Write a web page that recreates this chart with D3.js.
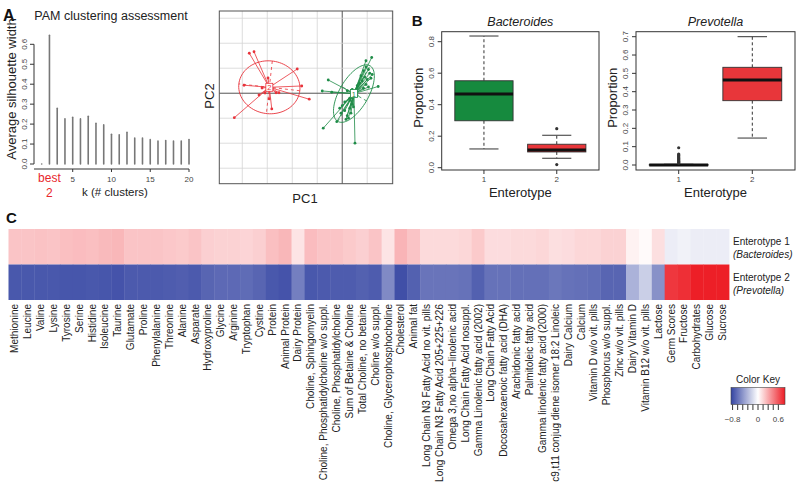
<!DOCTYPE html>
<html><head><meta charset="utf-8">
<script src="https://cdn.jsdelivr.net/npm/d3@7"></script>
<style>body{margin:0;background:#fff} svg{display:block;font-family:"Liberation Sans",Arial,Helvetica,sans-serif}</style>
</head><body><svg id="c" width="800" height="495"></svg>
<script>
// ---------------- DATA ----------------
const kValues = d3.range(1, 21);
const silhouette = [0, 0.645, 0.279, 0.227, 0.234, 0.226, 0.239, 0.204, 0.196, 0.149, 0.146, 0.159, 0.130, 0.130, 0.122, 0.115, 0.118, 0.115, 0.115, 0.123];
const silTicksY = [0, 0.1, 0.2, 0.3, 0.4, 0.5, 0.6];
const silTicksX = [5, 10, 15, 20];

const pcaGrid = [-4, -3, -2, -1, 0, 1, 2, 3];
const redPoints = [[-3.72,1.60],[-3.53,1.66],[-1.80,0.97],[-1.32,-0.24],[-4.32,-0.98],[-3.33,-0.07],[-3.93,0.32],[-2.82,-0.63],[-2.65,0.02],[-2.53,0.02],[-1.62,0.29],[-3.09,0.01],[-2.97,0.61],[-3.21,0.21],[-2.92,-0.23]];
const greenPoints = [[0.95,1.05],[1.05,0.95],[0.85,0.90],[1.10,0.80],[0.75,0.70],[0.90,0.65],[1.00,0.55],[1.20,0.75],[0.80,0.50],[0.70,0.40],[1.15,0.60],[0.95,0.35],[0.60,0.30],[0.85,0.20],[1.05,0.25],
  [1.18,1.43],[0.95,1.30],[1.44,0.27],[-0.56,0.53],[-0.80,0.09],[-0.42,0.04],[0.20,0.10],[0.40,0.15],[0.30,-0.20],[0.60,-0.10],
  [0.00,-0.50],[0.10,-0.70],[0.20,-0.90],[-0.05,-0.80],[0.30,-0.60],[0.25,-1.00],[0.10,-0.35],[0.40,-0.45],[0.35,-0.80],[-0.10,-0.60],[0.15,-1.05],[0.45,-0.55],[0.30,-0.30],
  [-0.76,-1.40],[0.51,-2.00],[-0.22,-1.14]];

const enterotypeGroups = ["1", "2"];
// [lower whisker, Q1, median, Q3, upper whisker]
const bacteroidesBox = [[0.119, 0.298, 0.468, 0.552, 0.836], [0.06, 0.10, 0.112, 0.149, 0.206]];
const bacteroidesOutliers = [[], [0.248, 0.02]];
const bacteroidesTicks = [0, 0.2, 0.4, 0.6, 0.8];
const prevotellaBox = [[0, 0, 0, 0.002, 0.004], [0.147, 0.351, 0.464, 0.533, 0.70]];
const prevotellaOutliers = [[0.01,0.015,0.02,0.025,0.03,0.035,0.04,0.045,0.05,0.055,0.06,0.094], []];
const prevotellaTicks = [0, 0.1, 0.2, 0.3, 0.4, 0.5, 0.6, 0.7];

const nutrients = ["Methionine","Leucine","Valine","Lysine","Tyrosine","Serine","Histidine","Isoleucine","Taurine","Glutamate","Proline","Phenylalanine","Threonine","Alanine","Asparate","Hydroxyproline","Glycine","Arginine","Tryptophan","Cystine","Protein","Animal Protein","Dairy Protein","Choline, Sphingomyelin","Choline, Phosphatidylcholine w/o suppl.","Choline, Phosphatidylcholine","Sum of Betaine & Choline","Total Choline, no betaine","Choline w/o suppl.","Choline, Glycerophosphocholine","Cholesterol","Animal fat","Long Chain N3 Fatty Acid no vit. pills","Long Chain N3 Fatty Acid 205+225+226","Omega 3,no alpha\u2212linolenic acid","Long Chain Fatty Acid nosuppl.","Gamma Linolenic fatty acid (2002)","Long Chain Fatty Acid","Docosahexaenoic fatty acid (DHA)","Arachidonic fatty acid","Palmitoleic fatty acid","Gamma linolenic fatty acid (2000)","c9,t11 conjug diene isomer 18:2 Linoleic","Dairy Calcium","Calcium","Vitamin D w/o vit. pills","Phosphorus w/o suppl.","Zinc w/o vit. pills","Dairy Vitamin D","Vitamin B12 w/o vit. pills","Lactose","Germ Scores","Fructose","Carbohydrates","Glucose","Sucrose"];
const enterotype1Values = [0.22,0.22,0.23,0.22,0.24,0.25,0.24,0.26,0.27,0.22,0.22,0.22,0.21,0.20,0.22,0.18,0.17,0.17,0.16,0.18,0.24,0.27,0.10,0.25,0.22,0.22,0.20,0.18,0.22,0.10,0.28,0.22,0.14,0.14,0.14,0.15,0.20,0.13,0.13,0.14,0.14,0.15,0.12,0.13,0.15,0.15,0.17,0.17,0.05,0.02,0.12,-0.08,-0.06,-0.08,-0.08,-0.08];
const enterotype2Values = [-0.76,-0.76,-0.76,-0.76,-0.77,-0.77,-0.76,-0.77,-0.78,-0.75,-0.75,-0.75,-0.74,-0.73,-0.75,-0.70,-0.68,-0.68,-0.67,-0.70,-0.76,-0.78,-0.58,-0.76,-0.75,-0.74,-0.74,-0.72,-0.74,-0.53,-0.80,-0.72,-0.63,-0.63,-0.63,-0.64,-0.72,-0.64,-0.64,-0.65,-0.65,-0.65,-0.62,-0.64,-0.65,-0.66,-0.70,-0.70,-0.35,-0.22,-0.50,0.75,0.78,0.84,0.84,0.84];
const rowLabels = [["Enterotype 1", "(Bacteroides)"], ["Enterotype 2", "(Prevotella)"]];
const keyTicks = [-0.8, -0.64, -0.48, -0.32, -0.16, 0, 0.16, 0.32, 0.48, 0.64];
const keyLabels = [[-0.8, "\u22120.8"], [0, "0"], [0.64, "0.6"]];

// ---------------- DRAW ----------------
const svg = d3.select("#c");
const GREEN = "#168a3e", RED = "#e8363a", AX = "#333";

function txt(g, x, y, s, opt = {}) {
  const t = g.append("text").attr("x", x).attr("y", y).text(s)
    .attr("font-size", opt.size || 10).attr("fill", opt.fill || "#222")
    .attr("text-anchor", opt.anchor || "middle");
  if (opt.weight) t.attr("font-weight", opt.weight);
  if (opt.style) t.attr("font-style", opt.style);
  if (opt.rotate) t.attr("transform", `rotate(${opt.rotate},${x},${y})`);
  return t;
}

// ---- Panel A: silhouette
{
  const g = svg.append("g");
  const x = d3.scaleLinear().domain([1, 20]).range([41.7, 189]);
  const y = d3.scaleLinear().domain([0, 0.6]).range([164, 44.3]);
  txt(g, 3, 21, "A", {size: 16, weight: "bold", anchor: "start", fill: "#111"});
  txt(g, 111, 20, "PAM clustering assessment", {size: 12.5});
  g.selectAll("line.bar").data(kValues).join("line")
    .attr("x1", d => x(d)).attr("x2", d => x(d))
    .attr("y1", y(0)).attr("y2", (d, i) => y(silhouette[i]))
    .attr("stroke", "#777").attr("stroke-width", 1.6).attr("stroke-linecap", "round");
  // y axis
  g.append("line").attr("x1", 34).attr("x2", 34).attr("y1", y(0)).attr("y2", y(0.6)).attr("stroke", AX);
  silTicksY.forEach(v => {
    g.append("line").attr("x1", 30).attr("x2", 34).attr("y1", y(v)).attr("y2", y(v)).attr("stroke", AX);
    txt(g, 27, y(v), d3.format(".1f")(v), {size: 8, rotate: -90, fill: "#444"});
  });
  // x axis
  g.append("line").attr("x1", 34).attr("x2", x(20)).attr("y1", 169).attr("y2", 169).attr("stroke", AX);
  silTicksX.forEach(v => {
    g.append("line").attr("x1", x(v)).attr("x2", x(v)).attr("y1", 169).attr("y2", 172).attr("stroke", AX);
    txt(g, x(v), 182, String(v), {size: 8, fill: "#444"});
  });
  txt(g, x(2), 182, "best", {size: 12, fill: "#e8262c"});
  txt(g, x(2), 197, "2", {size: 12, fill: "#e8262c"});
  txt(g, 115, 196, "k  (# clusters)", {size: 11.5});
  txt(g, 16, 89, "Average silhouette width", {size: 13, rotate: -90});
}

// ---- Panel A: PCA
{
  const g = svg.append("g");
  const L = 219.3, R = 392.7, T = 11, B = 183.7;
  const x = d3.scaleLinear().domain([-4.92, 2.02]).range([L, R]);
  const y = d3.scaleLinear().domain([-3.62, 3.29]).range([B, T]);
  pcaGrid.forEach(v => {
    if (x(v) > L && x(v) < R) g.append("line").attr("x1", x(v)).attr("x2", x(v)).attr("y1", T).attr("y2", B)
      .attr("stroke", v === 0 ? "#555" : "#d4d4d4").attr("stroke-width", v === 0 ? 1 : 0.8);
    if (y(v) > T && y(v) < B) g.append("line").attr("y1", y(v)).attr("y2", y(v)).attr("x1", L).attr("x2", R)
      .attr("stroke", v === 0 ? "#555" : "#d4d4d4").attr("stroke-width", v === 0 ? 1 : 0.8);
  });
  g.append("rect").attr("x", L).attr("y", T).attr("width", R - L).attr("height", B - T)
    .attr("fill", "none").attr("stroke", "#555");

  function drawClass(pts, col, label) {
    const mx = d3.mean(pts, p => p[0]), my = d3.mean(pts, p => p[1]);
    const sxx = d3.mean(pts, p => (p[0] - mx) ** 2), syy = d3.mean(pts, p => (p[1] - my) ** 2);
    const sxy = d3.mean(pts, p => (p[0] - mx) * (p[1] - my));
    const tr = sxx + syy, det = sxx * syy - sxy * sxy;
    const l1 = tr / 2 + Math.sqrt(tr * tr / 4 - det), l2 = tr / 2 - Math.sqrt(tr * tr / 4 - det);
    const ang = Math.atan2(l1 - sxx, sxy || 1e-9);
    const a = 1.5 * Math.sqrt(l1), b = 1.5 * Math.sqrt(l2);
    const ca = Math.cos(ang), sa = Math.sin(ang);
    const ell = d3.range(0, 361, 4).map(t => {
      const r = t * Math.PI / 180;
      const u = a * Math.cos(r), v = b * Math.sin(r);
      return [x(mx + u * ca - v * sa), y(my + u * sa + v * ca)];
    });
    g.append("path").attr("d", d3.line()(ell)).attr("fill", "none").attr("stroke", col).attr("stroke-width", 0.9);
    [[a * ca, a * sa], [-b * sa, b * ca]].forEach(([dx, dy]) => {
      g.append("line").attr("x1", x(mx - dx)).attr("y1", y(my - dy)).attr("x2", x(mx + dx)).attr("y2", y(my + dy))
        .attr("stroke", col).attr("stroke-width", 0.8).attr("stroke-dasharray", "3,3");
    });
    g.selectAll(null).data(pts).join("line")
      .attr("x1", x(mx)).attr("y1", y(my)).attr("x2", p => x(p[0])).attr("y2", p => y(p[1]))
      .attr("stroke", col).attr("stroke-width", 0.8);
    g.selectAll(null).data(pts).join("circle")
      .attr("cx", p => x(p[0])).attr("cy", p => y(p[1])).attr("r", 1.4).attr("fill", col);
    g.append("rect").attr("x", x(mx) - 3.5).attr("y", y(my) - 4).attr("width", 7).attr("height", 8)
      .attr("fill", "#fff").attr("stroke", col).attr("stroke-width", 0.8);
    txt(g, x(mx), y(my) + 3, label, {size: 7.5, fill: col});
  }
  drawClass(redPoints, "#e8323a", "2");
  drawClass(greenPoints, "#1f8c48", "1");
  txt(g, 305, 203, "PC1", {size: 13});
  txt(g, 214, 96, "PC2", {size: 13, rotate: -90});
}

// ---- Panel B: boxplots
function boxPanel(L, R, y0px, ymaxVal, ymaxPx, stats, outliers, ticks, title, letter) {
  const g = svg.append("g");
  const T = 31.7, B = 170;
  const x = d3.scaleLinear().domain([0.42, 2.58]).range([L, R]);
  const y = d3.scaleLinear().domain([0, ymaxVal]).range([y0px, ymaxPx]);
  const cols = [GREEN, RED];
  if (letter) txt(g, L - 30, 26, letter, {size: 15, weight: "bold", anchor: "start", fill: "#111"});
  txt(g, (L + R) / 2, 26, title, {size: 12.5, style: "italic"});
  stats.forEach((s, i) => {
    const cx = x(i + 1), hw = (x(1.4) - x(1)), cw = hw / 2;
    g.append("line").attr("x1", cx).attr("x2", cx).attr("y1", y(s[3])).attr("y2", y(s[4]))
      .attr("stroke", "#333").attr("stroke-dasharray", "3,2.5");
    g.append("line").attr("x1", cx).attr("x2", cx).attr("y1", y(s[1])).attr("y2", y(s[0]))
      .attr("stroke", "#333").attr("stroke-dasharray", "3,2.5");
    [s[0], s[4]].forEach(v => g.append("line").attr("x1", cx - cw).attr("x2", cx + cw).attr("y1", y(v)).attr("y2", y(v)).attr("stroke", "#333"));
    g.append("rect").attr("x", cx - hw).attr("width", 2 * hw).attr("y", y(s[3])).attr("height", Math.max(0.5, y(s[1]) - y(s[3])))
      .attr("fill", cols[i]).attr("stroke", "#333").attr("stroke-width", 0.9);
    g.append("line").attr("x1", cx - hw).attr("x2", cx + hw).attr("y1", y(s[2])).attr("y2", y(s[2]))
      .attr("stroke", "#111").attr("stroke-width", 3);
    g.selectAll(null).data(outliers[i]).join("circle").attr("cx", cx).attr("cy", v => y(v)).attr("r", 1.6)
      .attr("fill", "#333");
  });
  g.append("rect").attr("x", L).attr("y", T).attr("width", R - L).attr("height", B - T).attr("fill", "none").attr("stroke", "#333");
  ticks.forEach(v => {
    g.append("line").attr("x1", L - 4).attr("x2", L).attr("y1", y(v)).attr("y2", y(v)).attr("stroke", "#333");
    txt(g, L - 8, y(v), d3.format(".1f")(v), {size: 8, rotate: -90, fill: "#444"});
  });
  enterotypeGroups.forEach((gname, i) => {
    g.append("line").attr("x1", x(i + 1)).attr("x2", x(i + 1)).attr("y1", B).attr("y2", B + 4).attr("stroke", "#333");
    txt(g, x(i + 1), 182, gname, {size: 8, fill: "#444"});
  });
  txt(g, L - 19, (T + B) / 2 - 3, "Proportion", {size: 13, rotate: -90});
  txt(g, (L + R) / 2, 197, "Enterotype", {size: 13});
}
boxPanel(441.7, 599, 167.7, 0.8, 41.7, bacteroidesBox, bacteroidesOutliers, bacteroidesTicks, "Bacteroides", "B");
boxPanel(636, 795, 165, 0.7, 36.7, prevotellaBox, prevotellaOutliers, prevotellaTicks, "Prevotella", null);

// ---- Panel C: heatmap
{
  const g = svg.append("g");
  txt(g, 6, 223, "C", {size: 15, weight: "bold", anchor: "start", fill: "#111"});
  const x = d3.scaleBand().domain(nutrients).range([8.5, 729]);
  const y = d3.scaleBand().domain([0, 1]).range([229, 300]);
  const color = d3.scaleLinear().domain([-0.85, 0, 0.85]).range(["#3444a2", "#ffffff", "#ed1c24"]);
  [enterotype1Values, enterotype2Values].forEach((vals, r) => {
    g.selectAll(null).data(nutrients).join("rect")
      .attr("x", d => x(d)).attr("y", y(r)).attr("width", x.bandwidth() + 0.4).attr("height", y.bandwidth())
      .attr("fill", (d, i) => color(vals[i]));
  });
  g.selectAll(null).data(nutrients).join("text")
    .attr("transform", d => `translate(${x(d) + x.bandwidth() / 2},304) rotate(-90)`)
    .attr("dy", "0.35em").attr("text-anchor", "end").attr("font-size", 10).attr("fill", "#222").text(d => d);
  rowLabels.forEach((lab, r) => {
    txt(g, 733, y(r) + 16, lab[0], {size: 10, anchor: "start"});
    txt(g, 733, y(r) + 29, lab[1], {size: 10, anchor: "start", style: "italic"});
  });
  // colour key
  const kx = d3.scaleLinear().domain([-0.85, 0.85]).range([731, 785]);
  const grad = svg.append("defs").append("linearGradient").attr("id", "kg");
  d3.range(-0.85, 0.851, 0.085).forEach(v => grad.append("stop").attr("offset", (v + 0.85) / 1.7).attr("stop-color", color(v)));
  txt(g, 758, 383, "Color Key", {size: 10});
  g.append("rect").attr("x", kx(-0.85)).attr("y", 387.5).attr("width", kx(0.85) - kx(-0.85)).attr("height", 17)
    .attr("fill", "url(#kg)").attr("stroke", "#444").attr("stroke-width", 0.6);
  keyTicks.forEach(v => g.append("line").attr("x1", kx(v)).attr("x2", kx(v)).attr("y1", 404.5).attr("y2", 410).attr("stroke", "#333"));
  keyLabels.forEach(([v, s]) => txt(g, kx(v), 422, s, {size: 8, fill: "#444"}));
}
</script></body></html>
